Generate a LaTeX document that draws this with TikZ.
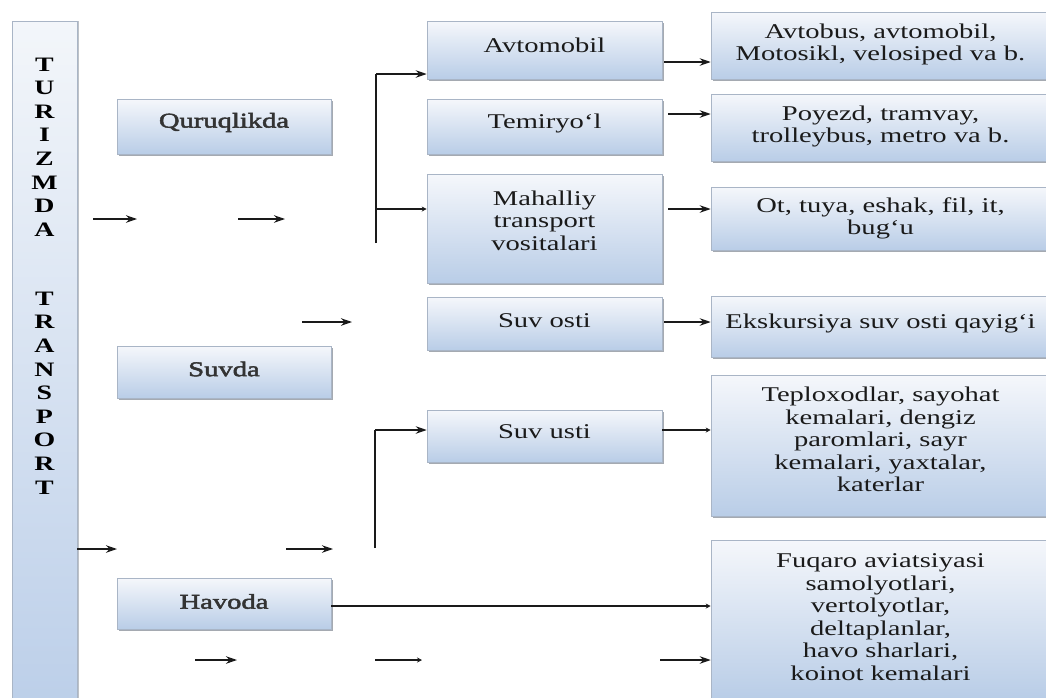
\documentclass[tikz,border=0pt]{standalone}
\usepackage{fontspec}
\setmainfont{Liberation Serif}[FakeStretch=1.36]
\newfontfamily\lvlfont{Liberation Serif}[FakeStretch=1.36,FakeBold=2.4]
\usetikzlibrary{arrows.meta,shadows}
\definecolor{boxtop}{HTML}{F5F7FB}
\definecolor{boxbot}{HTML}{B9CDE7}
\definecolor{boxline}{HTML}{A9B5C6}
\definecolor{shadowc}{HTML}{7F8790}
\definecolor{ink}{HTML}{1A1A1A}
\definecolor{sidetop}{HTML}{F3F6FA}
\definecolor{sidebot}{HTML}{BCCFE9}
\begin{document}
\begin{tikzpicture}[x=1pt,y=-1pt,
  box/.style={draw=boxline, line width=0.6pt, top color=boxtop, bottom color=boxbot,
    inner sep=0pt,
    drop shadow={shadow xshift=1.6pt, shadow yshift=-1.6pt, fill=shadowc, opacity=0.7}},
  txt/.style={align=center, inner sep=0pt, font=\fontsize{21}{22.5}\selectfont, text=ink},
  lvltxt/.style={align=center, inner sep=0pt, font=\fontsize{21}{22.5}\selectfont\lvlfont, text=black!80},
  midbox/.style={box, minimum width=235pt},
  rightbox/.style={box, minimum width=339pt},
  lvlbox/.style={box, minimum width=214pt},
  sidebox/.style={draw=boxline, line width=0.6pt, top color=sidetop, bottom color=sidebot,
    drop shadow={shadow xshift=1.6pt, shadow yshift=0pt, fill=shadowc, opacity=0.5}},
  letters/.style={align=center, inner sep=0pt, font=\fontsize{20.5}{23.6}\selectfont\bfseries, text=black},
  arr/.style={draw=ink, line width=1.2pt, -{Stealth[length=11pt,width=7.5pt]}},
  arrs/.style={draw=ink, line width=1.2pt, -{Stealth[length=5pt,width=5pt]}},
  trunk/.style={draw=ink, line width=1.8pt}
]
\useasboundingbox (0,0) rectangle (1046,697);
\fill[white] (0,0) rectangle (1046,697);

% side box
\node[sidebox, minimum width=65pt, minimum height=686pt] (side) at (44.5,364) {};
\node[letters] (w1) at (44.5,147) {T\\U\\R\\I\\Z\\M\\D\\A};
\node[letters] (w2) at (44.5,393) {T\\R\\A\\N\\S\\P\\O\\R\\T};

% level 1
\node[lvlbox, minimum height=55pt] (quru) at (224,126.5) {};
\node[lvltxt] (quruT) at ([yshift=4pt]quru.center) {Quruqlikda};
\node[lvlbox, minimum height=52pt] (suvda) at (224,372) {};
\node[lvltxt] (suvdaT) at ([yshift=3pt]suvda.center) {Suvda};
\node[lvlbox, minimum height=51pt] (havo) at (224,603.5) {};
\node[lvltxt] (havoT) at ([yshift=2pt]havo.center) {Havoda};

% middle
\node[midbox, minimum height=58pt] (avto) at (544.5,50) {};
\node[txt] (avtoT) at ([yshift=5pt]avto.center) {Avtomobil};
\node[midbox, minimum height=55pt] (temir) at (544.5,126.5) {};
\node[txt] (temirT) at ([yshift=3pt]temir.center) {Temiryo‘l};
\node[midbox, minimum height=109pt] (mahal) at (544.5,228.5) {};
\node[txt] (mahalT) at ([yshift=8pt]mahal.center) {Mahalliy\\transport\\vositalari};
\node[midbox, minimum height=53pt] (osti) at (544.5,323.5) {};
\node[txt] (ostiT) at ([yshift=3pt]osti.center) {Suv osti};
\node[midbox, minimum height=52pt] (usti) at (544.5,436) {};
\node[txt] (ustiT) at ([yshift=4pt]usti.center) {Suv usti};

% right
\node[rightbox, minimum height=67pt] (r1) at (880.5,45.5) {};
\node[txt] (r1T) at ([yshift=1pt]r1.center) {Avtobus, avtomobil,\\Motosikl, velosiped va b.};
\node[rightbox, minimum height=67pt] (r2) at (880.5,127.5) {};
\node[txt] (r2T) at ([yshift=1pt]r2.center) {Poyezd, tramvay,\\trolleybus, metro va b.};
\node[rightbox, minimum height=63pt] (r3) at (880.5,218.5) {};
\node[txt] (r3T) at (r3.center) {Ot, tuya, eshak, fil, it,\\bug‘u};
\node[rightbox, minimum height=61pt] (r4) at (880.5,326.5) {};
\node[txt] (r4T) at ([yshift=3pt]r4.center) {Ekskursiya suv osti qayig‘i};
\node[rightbox, minimum height=141pt] (r5) at (880.5,445.5) {};
\node[txt] (r5T) at ([yshift=6pt]r5.center) {Teploxodlar, sayohat\\kemalari, dengiz\\paromlari, sayr\\kemalari, yaxtalar,\\katerlar};
\node[rightbox, minimum height=158pt] (r6) at (880.5,619) {};
\node[txt] (r6T) at ([yshift=2pt]r6.center) {Fuqaro aviatsiyasi\\samolyotlari,\\vertolyotlar,\\deltaplanlar,\\havo sharlari,\\koinot kemalari};

% trunks
\coordinate (t1top) at (376,74);
\coordinate (t1mid) at (376,209);
\coordinate (t1bot) at (376,243);
\draw[trunk] (t1bot) -- (t1top);
\draw[arr] (t1top) -- (t1top -| avto.west);
\draw[arrs] (t1mid) -- (t1mid -| mahal.west);

\coordinate (t2top) at (375,430);
\coordinate (t2bot) at (375,548);
\draw[trunk] (t2bot) -- (t2top);
\draw[arr] (t2top) -- (t2top -| usti.west);

% middle to right
\coordinate (a1) at (664,62);
\draw[arr] (a1) -- (a1 -| r1.west);
\coordinate (a2) at (668,114);
\draw[arr] (a2) -- (a2 -| r2.west);
\coordinate (a3) at (668,209);
\draw[arr] (a3) -- (a3 -| r3.west);
\coordinate (a4) at (664,322);
\draw[arr] (a4) -- (a4 -| r4.west);
\coordinate (a5) at (662,430);
\draw[arrs] (a5) -- (a5 -| r5.west);
\coordinate (a6) at (331,606);
\draw[arrs] (a6 -| havo.east) -- (a6 -| r6.west);

% stray arrows
\coordinate (s1a) at (93,219);  \coordinate (s1b) at (137,219);
\draw[arr] (s1a) -- (s1b);
\coordinate (s2a) at (238,219); \coordinate (s2b) at (285,219);
\draw[arr] (s2a) -- (s2b);
\coordinate (s3a) at (302,322); \coordinate (s3b) at (352,322);
\draw[arr] (s3a) -- (s3b);
\coordinate (s4) at (117,549);
\draw[arr] (s4 -| side.east) -- (s4);
\coordinate (s5a) at (286,549); \coordinate (s5b) at (333,549);
\draw[arr] (s5a) -- (s5b);
\coordinate (s6a) at (195,660); \coordinate (s6b) at (237,660);
\draw[arr] (s6a) -- (s6b);
\coordinate (s7a) at (375,660); \coordinate (s7b) at (422,660);
\draw[arrs] (s7a) -- (s7b);
\coordinate (s8) at (660,660);
\draw[arr] (s8) -- (s8 -| r6.west);
\end{tikzpicture}
\end{document}
